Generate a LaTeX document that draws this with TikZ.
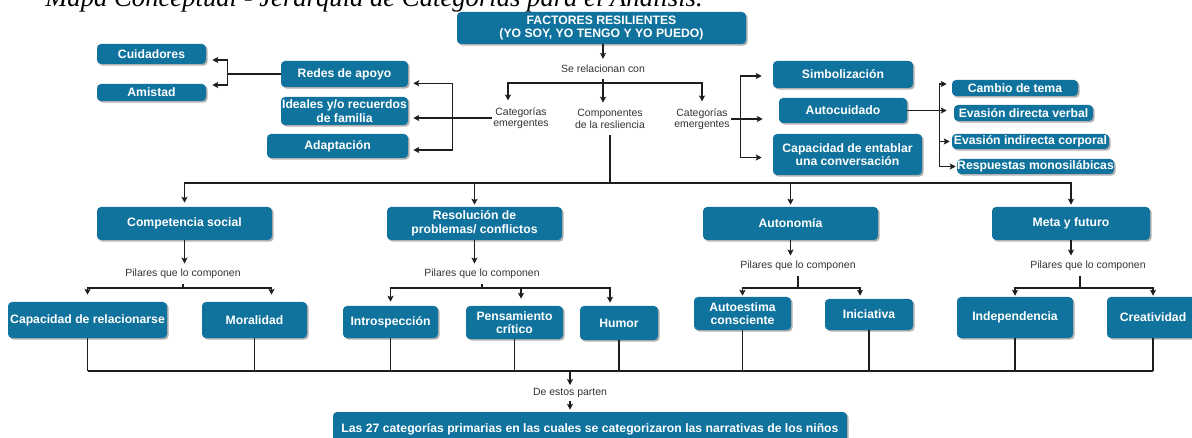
\documentclass[tikz,border=0pt]{standalone}
\usepackage{fontspec}
\setmainfont{Liberation Sans}
\newfontfamily\titlefont{Liberation Serif}
\usetikzlibrary{arrows.meta,calc,shadows}
\definecolor{boxblue}{HTML}{10739E}
\definecolor{linec}{HTML}{1E1E1E}
\newcommand{\cmbox}[6]{\node[box, minimum width={(#4-#2)*0.75pt}, minimum height={(#5-#3)*0.75pt}] (#1) at ({(#2+#4)/2},{(#3+#5)/2}) {#6};}
\begin{document}
\begin{tikzpicture}[x=0.75pt,y=-0.75pt,
  box/.style={fill=boxblue, rounded corners=3pt, text=white, font=\bfseries\fontsize{9.15}{10.2}\selectfont, align=center, inner sep=0pt, drop shadow={shadow xshift=1.2pt,shadow yshift=-1.2pt,opacity=0.3,fill=black}},
  lbl/.style={font=\fontsize{7.85}{8.5}\selectfont, text=black!80, align=center, inner xsep=1pt, inner ysep=4pt},
  ln/.style={draw=linec, line width=0.8pt},
  arr/.style={ln, -{Stealth[length=4.5pt,width=4.5pt,inset=1pt]}},
]
\useasboundingbox (0,0) rectangle (1192,438);

% title (cut by the top edge)
\node[anchor=base west, inner sep=0pt, font=\titlefont\itshape\fontsize{20}{24}\selectfont] (title) at (45,7) {Mapa Conceptual - Jerarquía de Categorías para el Análisis.};

% boxes
\cmbox{fact}{457}{12}{746}{44}{FACTORES RESILIENTES\\(YO SOY, YO TENGO Y YO PUEDO)}
\cmbox{cuid}{97}{44}{206}{64}{Cuidadores}
\cmbox{amis}{97}{84}{206}{101}{Amistad}
\cmbox{redes}{281}{61}{408}{87}{Redes de apoyo}
\cmbox{ideal}{281}{97}{408}{125}{Ideales y/o recuerdos\\de familia}
\cmbox{adap}{267}{134}{408}{158}{Adaptación}
\cmbox{simb}{773}{61}{913}{88}{Simbolización}
\cmbox{auto}{779}{98}{907}{123}{Autocuidado}
\cmbox{capent}{773}{134}{922}{175}{Capacidad de entablar\\una conversación}
\cmbox{cambio}{952}{80}{1078}{96}{Cambio de tema}
\cmbox{evdir}{954}{105}{1093}{121}{Evasión directa verbal}
\cmbox{evind}{952}{134}{1109}{149}{Evasión indirecta corporal}
\cmbox{resp}{957}{159}{1114}{174}{Respuestas monosilábicas}
\cmbox{comp}{97}{207}{272}{240}{Competencia social}
\cmbox{reso}{387}{207}{562}{240}{Resolución de\\problemas/ conflictos}
\cmbox{auton}{703}{207}{878}{240}{Autonomía}
\cmbox{meta}{992}{207}{1150}{240}{Meta y futuro}
\cmbox{caprel}{8}{302}{167}{338}{Capacidad de relacionarse}
\cmbox{moral}{202}{302}{307}{338}{Moralidad}
\cmbox{intro}{343}{306}{438}{338}{Introspección}
\cmbox{pens}{466}{306}{563}{339}{Pensamiento\\crítico}
\cmbox{humor}{580}{306}{658}{340}{Humor}
\cmbox{autoes}{694}{297}{791}{330}{Autoestima\\consciente}
\cmbox{inic}{825}{299}{913}{330}{Iniciativa}
\cmbox{indep}{957}{297}{1073}{338}{Independencia}
\cmbox{creat}{1107}{297}{1199}{338}{Creatividad}
\cmbox{final}{333}{412}{847}{446}{Las 27 categorías primarias en las cuales se categorizaron las narrativas de los niños}

% labels
\node[lbl, inner ysep=4.5pt] (serel) at (603,69) {Se relacionan con};
\node[lbl, inner ysep=5pt] (catL) at (521,118) {Categorías\\emergentes};
\node[lbl, inner ysep=5pt] (compl) at (610,119) {Componentes\\de la resliencia};
\node[lbl, inner ysep=5pt] (catR) at (702,119) {Categorías\\emergentes};
\node[lbl] (pil1) at (183,274) {Pilares que lo componen};
\node[lbl] (pil2) at (482,274) {Pilares que lo componen};
\node[lbl] (pil3) at (798,266) {Pilares que lo componen};
\node[lbl] (pil4) at (1088,266) {Pilares que lo componen};
\node[lbl, inner ysep=2.25pt] (deest) at (570,393) {De estos parten};

% top
\draw[arr] (fact.south -| serel.north) -- (serel.north);
\coordinate (jt) at (603,83);
\draw[ln] (serel.south) -- (jt);
\coordinate (tCatL) at ($(catL.north)+(-13,0)$);
\draw[arr] (jt) -| (tCatL);
\draw[arr] (jt) -| (catR.north);
\draw[arr] (jt) -- (jt |- compl.north);

% left group
\coordinate (jl) at ($(catL.west)+(-39,0)$);
\coordinate (tRedes) at ($(redes.south east)+(5,-4)$);
\coordinate (tIdeal) at ($(ideal.east)+(5,0)$);
\coordinate (tAdap) at ($(adap.east)+(5,4)$);
\draw[arr] (catL.west) -- (catL.west -| tIdeal);
\draw[arr] (jl) |- (tRedes);
\draw[arr] (jl) |- (tAdap);

% redes group
\coordinate (jc) at ($(redes.west)+(-53,0)$);
\coordinate (tCuid) at ($(cuid.east)+(6,6)$);
\coordinate (tAmis) at ($(amis.east)+(6,-7.5)$);
\draw[ln] (redes.west) -- (jc);
\draw[arr] (jc) |- (tCuid);
\draw[arr] (jc) |- (tAmis);

% right group
\coordinate (jr) at ($(catR.east)+(9,0)$);
\coordinate (tSimb) at ($(simb.west)+(-11,1.5)$);
\coordinate (tAuto) at ($(auto.west)+(-16,0)$);
\coordinate (tCap) at ($(capent.west)+(-11,3)$);
\draw[arr] (catR.east) -- (catR.east -| tAuto);
\draw[arr] (jr) |- (tSimb);
\draw[arr] (jr) |- (tCap);

% autocuidado group
\coordinate (ja) at ($(auto.east)+(32,0)$);
\coordinate (tCambio) at ($(cambio.west)+(-5,-4)$);
\coordinate (tEvdir) at ($(evdir.west)+(-7,-2)$);
\coordinate (tEvind) at ($(evind.west)+(-2,0)$);
\coordinate (tResp) at ($(resp.west)+(-1,0)$);
\draw[ln] (auto.east) -- (ja);
\draw[arr] (ja) |- (tCambio);
\draw[arr] (ja) -- (ja -| tEvdir);
\draw[arr] (ja) |- (tEvind);
\draw[arr] (ja) |- (tResp);

% components bus
\coordinate (busA) at (610,183);
\draw[ln] (compl.south) -- (busA);
\draw[arr, shorten >=3pt] (busA) -| (comp.north);
\draw[arr, shorten >=1.5pt] (busA) -| (reso.north);
\draw[arr, shorten >=1.5pt] (busA) -| (auton.north);
\draw[arr, shorten >=1.5pt] (busA) -| (meta.north);

% pillars 1
\coordinate (j1) at (183,288);
\coordinate (tMoral) at ($(moral.north)+(17,0)$);
\draw[arr] (comp.south) -- (comp.south |- pil1.north);
\draw[ln] (pil1.south) -- (j1);
\draw[arr, shorten >=5.25pt] (j1) -| (caprel.north);
\draw[arr, shorten >=5.25pt] (j1) -| (tMoral);

% pillars 2
\coordinate (j2) at (482,288);
\coordinate (tPens) at ($(pens.north)+(6.5,0)$);
\coordinate (tHumor) at ($(humor.north)+(-9,0)$);
\draw[arr] (reso.south) -- (reso.south |- pil2.north);
\draw[ln] (pil2.south) -- (j2);
\draw[arr, shorten >=3pt] (j2) -| (intro.north);
\draw[arr, shorten >=5.25pt] (j2) -| (tPens);
\draw[arr, shorten >=2.25pt] (j2) -| (tHumor);

% pillars 3
\coordinate (j3) at (798,288);
\coordinate (tInic) at ($(inic.north)+(-9,0)$);
\draw[arr] (auton.south) -- (auton.south |- pil3.north);
\draw[ln] (pil3.south) -- (j3);
\draw[arr, shorten >=0.75pt] (j3) -| (autoes.north);
\draw[arr, shorten >=2.25pt] (j3) -| (tInic);

% pillars 4
\coordinate (j4) at (1080,288);
\draw[arr] (meta.south) -- (meta.south |- pil4.north);
\draw[ln] (pil4.south -| j4) -- (j4);
\draw[arr, shorten >=0.75pt] (j4) -| (indep.north);
\draw[arr, shorten >=0.75pt] (j4) -| (creat.north);

% bottom bus
\coordinate (busB) at (570,371);
\foreach \n in {caprel,moral,intro,pens,humor,autoes,inic,indep,creat}
  \draw[ln] (\n.south) -- (\n.south |- busB);
\draw[ln] (caprel.south |- busB) -- (creat.south |- busB);
\draw[arr] (busB) -- (deest.north);
\draw[arr, shorten >=1.5pt] (deest.south) -- (deest.south |- final.north);
\end{tikzpicture}
\end{document}
